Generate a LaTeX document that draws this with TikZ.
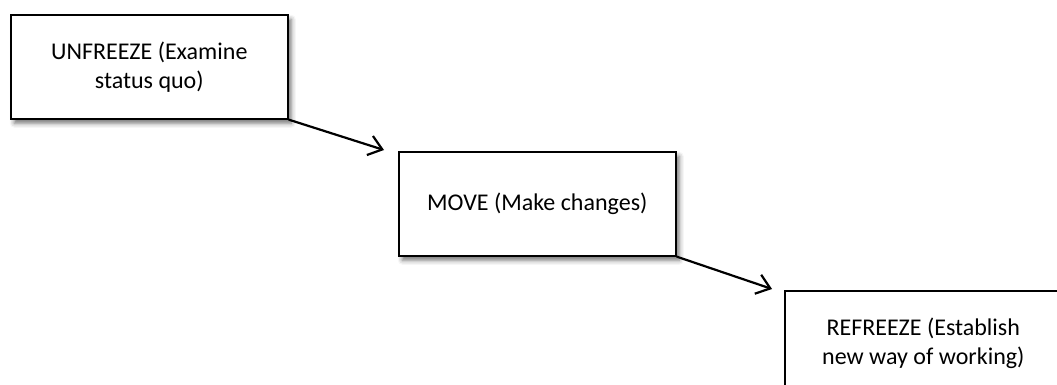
\documentclass[tikz,border=0pt]{standalone}
\usepackage{fontspec}
\setmainfont{Carlito}
\usetikzlibrary{arrows.meta,shadows.blur}
\begin{document}
\begin{tikzpicture}[x=1pt,y=-1pt,
  stagebox/.style={draw=black, line width=1.6pt, fill=white, anchor=north west,
    minimum width=277pt, minimum height=104pt, inner sep=0pt,
    align=center, font=\fontsize{24pt}{29pt}\selectfont,
    blur shadow={shadow xshift=3.5pt, shadow yshift=-4.5pt, shadow blur radius=4.5pt, shadow opacity=55}},
  flow/.style={line width=2.2pt, -{Straight Barb[length=13pt,width=20pt,line width=2.2pt]}}]
  \useasboundingbox (0,0) rectangle (1057,385);
  \clip (0,0) rectangle (1057,385);
  \node[stagebox] (unfreeze) at (10,14) {UNFREEZE (Examine\\status quo)};
  \node[stagebox] (move) at (398,151) {MOVE (Make changes)};
  \node[stagebox] (refreeze) at (784,290) {REFREEZE (Establish\\new way of working)};
  \coordinate (tipA) at (384,150);
  \coordinate (tipB) at (772,289);
  \draw[flow] (unfreeze.south east) -- (tipA);
  \draw[flow] (move.south east) -- (tipB);
\end{tikzpicture}
\end{document}
